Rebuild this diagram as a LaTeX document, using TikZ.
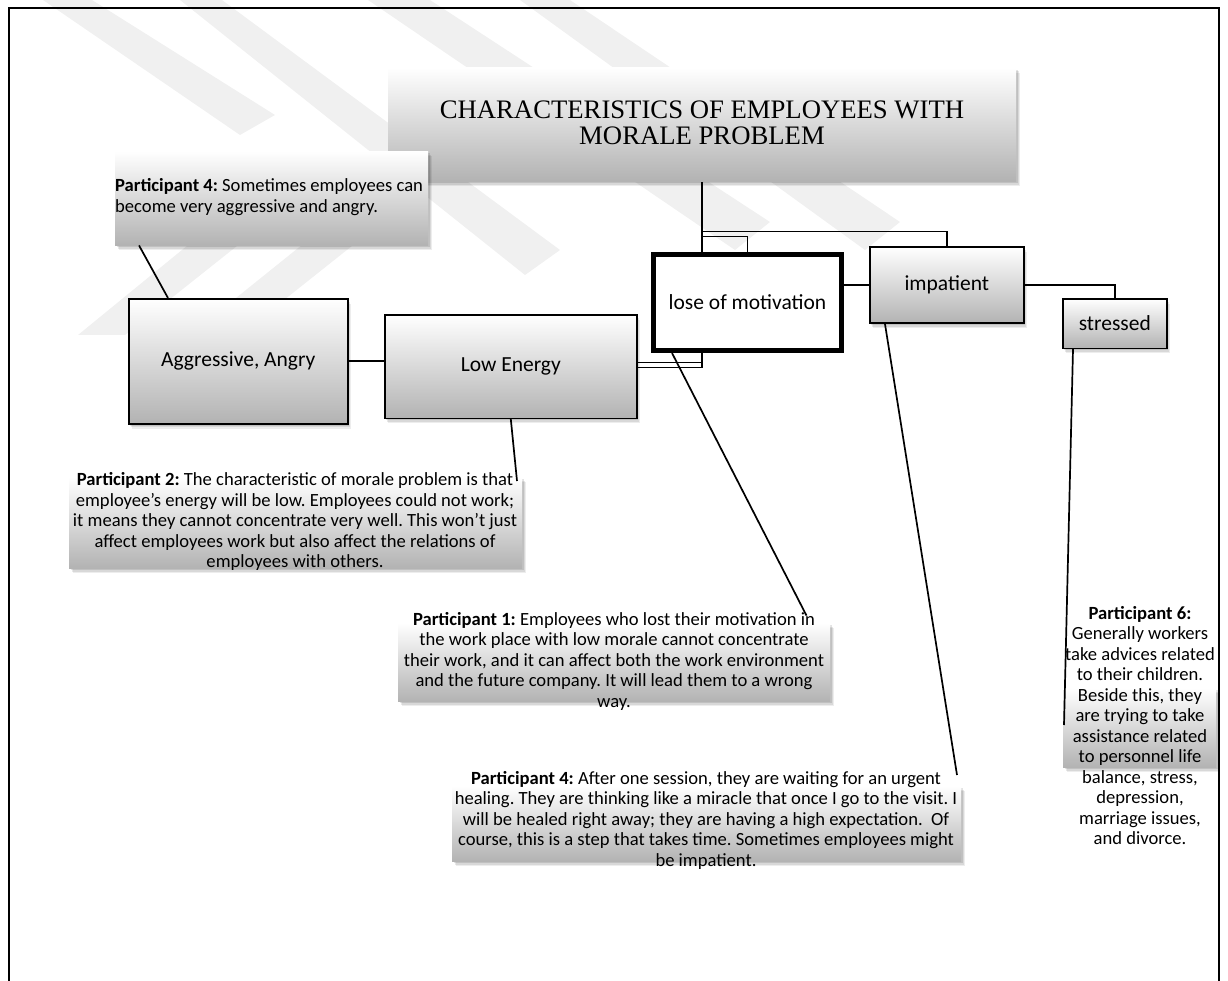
\documentclass[tikz,border=0pt]{standalone}
\usepackage{fontspec}
\setmainfont{Carlito}
\newfontfamily\serifhead{Liberation Serif}
\usetikzlibrary{shadows,calc}
\frenchspacing

\pgfdeclarelayer{bg}
\pgfsetlayers{bg,main}

\tikzset{
  conn/.style={line width=1.7pt, draw=black},
  softshadow/.style={
    general shadow={fill=black, opacity=0.07, shadow xshift=3.5pt, shadow yshift=-5pt},
    general shadow={fill=black, opacity=0.09, shadow xshift=2.5pt, shadow yshift=-3.5pt},
    general shadow={fill=black, opacity=0.11, shadow xshift=1.5pt, shadow yshift=-2pt}},
  graded/.style={top color=white, bottom color=black!30},
  notebox/.style={rectangle, inner sep=0pt, graded, softshadow},
  notetext/.style={inner sep=0pt, font=\fontsize{18.6}{20.5}\selectfont, align=center},
  keybox/.style={rectangle, inner sep=0pt, draw=black, line width=1.6pt, graded, softshadow,
                 font=\fontsize{21.5}{25}\selectfont},
  emblem/.style={fill=black!6, draw=none},
}

\begin{document}
\begin{tikzpicture}[x=1pt,y=-1pt]
\useasboundingbox (0,0) rectangle (1228,981);

% faint background emblem
\begin{pgfonlayer}{bg}
  \fill[emblem] (43,0) -- (92,0) -- (275,115) -- (240,135) -- cycle;
  \fill[emblem] (180,0) -- (222,0) -- (560,250) -- (525,275) -- cycle;
  \fill[emblem] (368,0) -- (430,0) -- (770,222) -- (735,250) -- cycle;
  \fill[emblem] (520,0) -- (570,0) -- (900,222) -- (865,250) -- cycle;
  \fill[emblem] (78,335) -- (125,335) -- (330,172) -- (292,160) -- cycle;
  \fill[emblem] (190,335) -- (240,335) -- (450,168) -- (410,158) -- cycle;
\end{pgfonlayer}

% page frame
\draw[line width=2pt] (9,981) -- (9,8) -- (1219,8) -- (1219,981);

% heading
\node[notebox, minimum width=628pt, minimum height=113.5pt, anchor=north west] (title) at (388,67.5) {};
\node[inner sep=0pt, align=center, font=\serifhead\fontsize{26.7}{25.5}\selectfont] (titletext) at (702,123)
  {CHARACTERISTICS OF EMPLOYEES WITH\\MORALE PROBLEM};

% characteristic boxes
\node[keybox, minimum width=219pt, minimum height=125pt, anchor=north west] (agg) at (128,298) {Aggressive, Angry};
\node[keybox, minimum width=252pt, minimum height=103.5pt, anchor=north west] (low) at (384,314) {Low Energy};
\node[rectangle, inner sep=0pt, draw=black, line width=5pt, fill=white, minimum width=188pt, minimum height=96pt,
      font=\fontsize{21.5}{25}\selectfont] (lose) at (747.5,302.5) {lose of motivation};
\node[keybox, minimum width=154pt, minimum height=76.5pt, anchor=north west] (imp) at (869,246) {impatient};
\node[keybox, minimum width=104pt, minimum height=49.5pt, anchor=north west] (str) at (1062,298) {stressed};

% quotation boxes
\node[notebox, minimum width=313pt, minimum height=94pt, anchor=north west] (p4abox) at (115,151) {};
\node[notetext, align=left, anchor=west] (p4a) at (115,198)
  {\strut\textbf{Participant 4:} Sometimes employees can\\become very aggressive and angry.\strut};

\node[notebox, minimum width=453pt, minimum height=91pt, anchor=north west] (p2box) at (69,477) {};
\node[notetext] (p2) at (295,522.5)
  {\strut\textbf{Participant 2:} The characteristic of morale problem is that\\
   employee’s energy will be low. Employees could not work;\\
   it means they cannot concentrate very well. This won’t just\\
   affect employees work but also affect the relations of\\
   employees with others.\strut};

\node[notebox, minimum width=432pt, minimum height=78pt, anchor=north west] (p1box) at (398,623) {};
\node[notetext] (p1) at (614,662)
  {\strut\textbf{Participant 1:} Employees who lost their motivation in\\
   the work place with low morale cannot concentrate\\
   their work, and it can affect both the work environment\\
   and the future company. It will lead them to a wrong\\
   way.\strut};

\node[notebox, minimum width=509pt, minimum height=75pt, anchor=north west] (p4bbox) at (452,786) {};
\node[notetext] (p4b) at (706,821)
  {\strut\textbf{Participant 4:} After one session, they are waiting for an urgent\\
   healing. They are thinking like a miracle that once I go to the visit. I\\
   will be healed right away; they are having a high expectation.~ Of\\
   course, this is a step that takes time. Sometimes employees might\\
   be impatient.\strut};

\node[notebox, minimum width=153pt, minimum height=79pt, anchor=north west] (p6box) at (1063,688) {};

% connectors running behind the boxes
\begin{pgfonlayer}{bg}
  \draw[conn] (title.south) -- ++(0,50) -| (imp.north);
  \draw[conn] (title.south) -- ++(0,55) -| (lose.north);
  \draw[conn] (title.south) |- ([yshift=-1pt]low.east);
  \draw[conn] (lose.south -| title.south) |- ([yshift=4pt]low.east);
  \draw[conn] (agg.east) -- (agg.east -| low.west);
  \draw[conn] (lose.east |- imp.west) -- (imp.west);
  \draw[conn] (imp.east) -| (str.north);
\end{pgfonlayer}

% leader lines to the quotations
\coordinate (p2end) at (517,481);
\coordinate (p1end) at (806.5,615.6);
\coordinate (p4bend) at (957,775);
\coordinate (p6end) at (1064,725);
\draw[conn] ([xshift=24pt]p4abox.south west) -- ([xshift=40pt]agg.north west);
\draw[conn] (low.south) -- (p2end);
\draw[conn] ([xshift=21pt]lose.south west) -- (p1end);
\draw[conn] ([xshift=16pt]imp.south west) -- (p4bend);
\draw[conn] ([xshift=11pt]str.south west) -- (p6end);

\node[notetext] (p6) at (1140,728)
  {\strut\textbf{Participant 6:}\\
   Generally workers\\
   take advices related\\
   to their children.\\
   Beside this, they\\
   are trying to take\\
   assistance related\\
   to personnel life\\
   balance, stress,\\
   depression,\\
   marriage issues,\\
   and divorce.\strut};

\end{tikzpicture}
\end{document}
